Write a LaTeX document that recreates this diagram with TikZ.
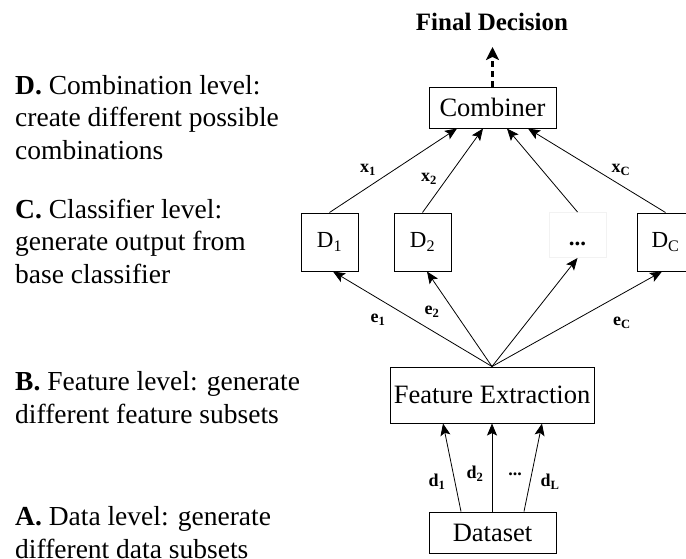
\documentclass[tikz,border=0pt]{standalone}
\usepackage{fontspec}
\setmainfont{Liberation Serif}
\usetikzlibrary{arrows.meta}
\begin{document}
\begin{tikzpicture}[x=1pt,y=-1pt,
  box/.style={draw, line width=1pt, rectangle, inner sep=0pt, font=\fontsize{26.5}{30}\selectfont},
  dbox/.style={box, minimum width=57, minimum height=58, font=\fontsize{23}{26}\selectfont},
  conn/.style={line width=0.8pt, -{Stealth[length=12pt,width=10pt,inset=2.5pt]}},
  lbl/.style={font=\bfseries\fontsize{18}{20}\selectfont, inner sep=0pt},
  lvl/.style={anchor=base west, align=left, inner sep=0pt, font=\fontsize{27.5}{32.5}\selectfont}]
\clip (0,0) rectangle (686,558);
\useasboundingbox (0,0) rectangle (686,558);

% level descriptions (placed at the baseline of each block's last line)
\node[lvl] (lvD) at (15,159) {\textbf{D.} Combination level:\\create different possible\\combinations};
\node[lvl] (lvC) at (15,283) {\textbf{C.} Classifier level:\\generate output from\\base classifier};
\node[lvl] (lvB) at (15,423) {\textbf{B.} Feature level: generate\\different feature subsets};
\node[lvl] (lvA) at (15,558) {\textbf{A.} Data level: generate\\different data subsets};

% boxes
\node[box, minimum width=127, minimum height=41] (comb) at (492.5,107.5) {Combiner};
\node[dbox] (d1) at (329.5,242) {D\textsubscript{1}};
\node[dbox] (d2) at (422.5,242) {D\textsubscript{2}};
\node[dbox, draw=black!5, font=\bfseries\fontsize{23}{26}\selectfont, minimum height=45, text height=20pt, text depth=0pt] (dd) at (577.5,235) {...};
\node[dbox] (dc) at (665.5,242) {D\textsubscript{C}};
\node[box, minimum width=204, minimum height=56] (fe) at (492,395) {Feature Extraction};
\node[box, minimum width=127, minimum height=41] (ds) at (492.5,532.5) {Dataset};

% final decision
\node[font=\bfseries\fontsize{25}{28}\selectfont, inner sep=0pt] (fd) at (492,22) {Final Decision};
\coordinate (fdtip) at (492.5,47);
\draw[line width=2.2pt, dash pattern=on 6pt off 4pt, -{Stealth[length=13pt,width=13pt,inset=3pt]}] (comb.north) -- (fdtip);

% classifiers to combiner
\draw[conn] (d1.north) -- ([xshift=-35.5]comb.south);
\draw[conn] (d2.north) -- ([xshift=-9.5]comb.south);
\draw[conn] (dd.north) -- ([xshift=14.5]comb.south);
\draw[conn] (dc.north) -- ([xshift=35.5]comb.south);

% feature extraction to classifiers
\draw[conn] (fe.north) -- ([xshift=3.5]d1.south);
\draw[conn] (fe.north) -- ([xshift=4.5]d2.south);
\draw[conn] (fe.north) -- (dd.south);
\draw[conn] (fe.north) -- ([xshift=-3.5]dc.south);

% dataset to feature extraction
\draw[conn] ([xshift=-31.5]ds.north) -- ([xshift=-49]fe.south);
\draw[conn] ([xshift=-0.5]ds.north) -- ([xshift=0]fe.south);
\draw[conn] ([xshift=31.5]ds.north) -- ([xshift=50]fe.south);

% connector labels
\node[lbl] (lx1) at (368,170) {x\textsubscript{1}};
\node[lbl] (lx2) at (429,179) {x\textsubscript{2}};
\node[lbl] (lxc) at (621,170) {x\textsubscript{C}};
\node[lbl] (le1) at (378,320) {e\textsubscript{1}};
\node[lbl] (le2) at (432,312) {e\textsubscript{2}};
\node[lbl] (lec) at (622,323) {e\textsubscript{C}};
\node[lbl] (ld1) at (437,482) {d\textsubscript{1}};
\node[lbl] (ld2) at (475,474) {d\textsubscript{2}};
\node[lbl] (ldd) at (515,474) {...};
\node[lbl] (ldl) at (550,482) {d\textsubscript{L}};
\end{tikzpicture}
\end{document}
